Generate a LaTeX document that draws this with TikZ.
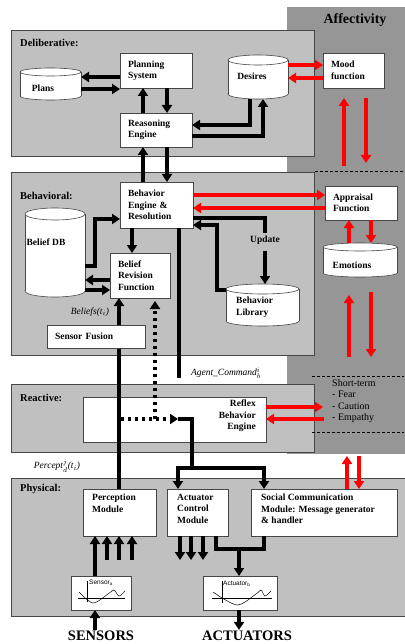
\documentclass[tikz,border=0pt]{standalone}
\usepackage{fontspec}
\setmainfont{Liberation Serif}
\setsansfont{Liberation Sans}
\usetikzlibrary{arrows.meta}
\definecolor{laygray}{RGB}{192,192,192}
\definecolor{affgray}{RGB}{150,150,150}
\definecolor{edgegray}{RGB}{70,70,70}
\tikzset{
  lay/.style={draw=edgegray, line width=0.7pt, fill=laygray},
  laylbl/.style={font=\bfseries\fontsize{10.5}{12}\selectfont, anchor=west, inner sep=0pt},
  box/.style={draw=edgegray, line width=0.6pt, fill=white, inner sep=0pt, outer sep=0pt,
    font=\bfseries\fontsize{9.5}{11.5}\selectfont, align=left},
  boxtxt/.style={font=\bfseries\fontsize{9.5}{11.5}\selectfont, align=left, inner sep=0pt},
  tip/.style={-{Triangle[length=8pt,width=10pt]}},
  blk/.style={line width=3.1pt, tip},
  blkline/.style={line width=3.1pt},
  rd/.style={blk, draw=red},
  dotl/.style={line width=3.1pt, dash pattern=on 3pt off 4pt},
  dsh/.style={line width=0.6pt, dash pattern=on 3pt off 2pt},
  lbl/.style={font=\itshape\fontsize{9.5}{11}\selectfont, inner sep=0pt},
  graph/.style={line width=0.5pt},
}
% box: name x1 y1 x2 y2 text
\newcommand\mybox[6]{%
  \node[box, minimum width={(#4-#2)*1pt}, minimum height={(#5-#3)*1pt},
    text width={(#4-#2-16)*1pt}] (#1) at ({(#2+#4)/2},{(#3+#5)/2}) {#6};}
% empty box: name x1 y1 x2 y2
\newcommand\myebox[5]{%
  \node[box, minimum width={(#4-#2)*1pt}, minimum height={(#5-#3)*1pt}] (#1) at ({(#2+#4)/2},{(#3+#5)/2}) {};}
% cylinder: name x1 y1 x2 y2 ry
\newcommand\mycyl[6]{%
  \pgfmathsetmacro\cylrx{(#4-#2)/2}%
  \pgfmathsetmacro\cylcx{(#4+#2)/2}%
  \draw[line width=0.6pt, draw=edgegray, fill=white] (\cylcx,#5-#6) ellipse[x radius=\cylrx, y radius=#6];
  \fill[white] (#2,#3+#6) rectangle (#4,#5-#6);
  \draw[line width=0.6pt, draw=edgegray] (#2,#3+#6) -- (#2,#5-#6) (#4,#3+#6) -- (#4,#5-#6);
  \draw[line width=0.6pt, draw=edgegray, fill=white] (\cylcx,#3+#6) ellipse[x radius=\cylrx, y radius=#6];
  \node[inner sep=0pt, outer sep=0pt, minimum width={(#4-#2)*1pt}, minimum height={(#5-#3)*1pt}] (#1) at ({(#2+#4)/2},{(#3+#5)/2}) {};}
\begin{document}
\begin{tikzpicture}[x=1pt,y=-1pt]
\useasboundingbox (0,0) rectangle (404,644);
\fill[white] (0,0) rectangle (404,644);
% affectivity column
\fill[affgray] (287,7) rectangle (405,454);
\node[font=\bfseries\fontsize{14}{16}\selectfont] (afft) at (355,20) {Affectivity};
% layers
\draw[lay] (11,30) rectangle (314,156);
\draw[lay] (11,172) rectangle (314,355);
\draw[lay] (11,384) rectangle (314,452);
\draw[lay] (11,478) rectangle (408,616);
\node[laylbl] (ldel) at (20,43) {Deliberative:};
\node[laylbl] (lbeh) at (20,196) {Behavioral:};
\node[laylbl] (lrea) at (20,398) {Reactive:};
\node[laylbl] (lphy) at (20,489) {Physical:};

% dashed separators in affectivity
\coordinate (d1a) at (315,171); \coordinate (d1b) at (404,171);
\coordinate (d2a) at (312,376); \coordinate (d2b) at (404,376);
\coordinate (d3a) at (312,432); \coordinate (d3b) at (404,432);
\draw[dsh] (d1a) -- (d1b);
\draw[dsh] (d2a) -- (d2b);
\draw[dsh] (d3a) -- (d3b);

% ---------- deliberative ----------
\mycyl{plans}{20}{68}{81}{100}{4}
\node[boxtxt] (plantxt) at (43,88) {Plans};
\mycyl{des}{228}{55}{288}{99}{5}
\node[boxtxt] (destxt) at (252,76) {Desires};
\mybox{plan}{120}{53}{192}{88}{Planning\\System}
\mybox{mood}{323}{53}{384}{88}{Mood\\function}
\mybox{reas}{120}{113}{192}{147}{Reasoning\\Engine}

\draw[blk] (plan.west |- 0,77) -- (plans.east |- 0,77);
\draw[blk] (plans.east |- 0,89) -- (plan.west |- 0,89);
\draw[blk] (reas.north -| 143,0) -- (plan.south -| 143,0);
\draw[blk] (plan.south -| 167,0) -- (reas.north -| 167,0);
\draw[blk] (des.south -| 250,0) |- (reas.east |- 0,125);
\draw[blk] (reas.east |- 0,136) -| (des.south -| 263,0);
\draw[rd] (des.east |- 0,65) -- (mood.west |- 0,65);
\draw[rd] (mood.west |- 0,78) -- (des.east |- 0,78);
\coordinate (m1) at (344,166); \coordinate (m2) at (344,98);
\coordinate (m3) at (366,98); \coordinate (m4) at (366,163);
\draw[rd] (m1) -- (m2);
\draw[rd] (m3) -- (m4);

% ---------- behavioral ----------
\mybox{beh}{120}{182}{193}{228}{Behavior\\Engine \&\\Resolution}
\mybox{brf}{110}{253}{170}{298}{Belief\\Revision\\Function}
\mybox{appr}{325}{186}{397}{220}{Appraisal\\Function}
\mycyl{bdb}{25}{208}{85}{297}{6}
\node[boxtxt] (bdbtxt) at (46,242) {Belief DB};
\mycyl{lib}{226}{284}{299}{326}{5}
\node[boxtxt, anchor=north west] (libtxt) at (236,297) {Behavior\\Library};
\mycyl{emo}{323}{243}{397}{277}{4}
\node[boxtxt] (emotxt) at (352,265) {Emotions};
\node[boxtxt, inner sep=2pt] (upd) at (265,240) {Update};

\draw[blk] (reas.south -| 167,0) -- (beh.north -| 167,0);
\draw[blk] (beh.north -| 143,0) -- (reas.south -| 143,0);
\draw[rd] (beh.east |- 0,195) -- (appr.west |- 0,195);
\draw[rd] (appr.west |- 0,208) -- (beh.east |- 0,208);
\draw[blk] (bdb.east |- 0,266) -| (95,219) -- (beh.west |- 0,219);
\draw[blk] (beh.south -| 132,0) -- (brf.north -| 132,0);
\draw[blk] (brf.west |- 0,280) -- (bdb.east |- 0,280);
\draw[blk] (bdb.east |- 0,290) -- (brf.west |- 0,290);
\draw[blkline] (beh.east |- 0,218) -| (upd.north);
\draw[blk, shorten <=4pt] (upd.south) -- (upd.south |- lib.north);
\draw[blk] (lib.west |- 0,290) -| (217,225) -- (beh.east |- 0,225);
\draw[rd] (emo.north -| 349,0) -- (appr.south -| 349,0);
\draw[rd] (appr.south -| 371,0) -- (emo.north -| 371,0);
\coordinate (e1) at (349,357); \coordinate (e2) at (349,295);
\coordinate (e3) at (371,292); \coordinate (e4) at (371,357);
\draw[rd] (e1) -- (e2);
\draw[rd] (e3) -- (e4);
\coordinate (agentend) at (179,378);
\draw[blkline] (beh.south -| 179,0) -- (agentend);
\node[lbl] (agentlbl) at (226,373) {Agent\_Command$_b^i$};
\node[lbl] (beliefslbl) at (90,312) {Beliefs(t$_i$)};

% ---------- reactive ----------
\myebox{refl}{83}{397}{266}{442}
\node[boxtxt, align=right, anchor=north east] (refltxt) at (256,400) {Reflex\\Behavior\\Engine};
\coordinate (r1) at (323,407); \coordinate (r2) at (324,419);
\draw[rd] (refl.east |- 0,407) -- (r1);
\draw[rd] (r2) -- (refl.east |- 0,419);
\node[font=\fontsize{10}{11.5}\selectfont, align=left, anchor=north west, inner sep=0pt] (stxt) at (332,379) {Short-term\\- Fear\\- Caution\\- Empathy};
\node[lbl] (perclbl) at (57,466) {Percept$_d^j$(t$_i$)};

% ---------- physical ----------
\myebox{perc}{83}{489}{156}{536}
\node[boxtxt, anchor=north west] (perctxt) at (92,494) {Perception\\Module};
\myebox{act}{167}{489}{228}{536}
\node[boxtxt, anchor=north west] (acttxt) at (177,494) {Actuator\\Control\\Module};
\myebox{soc}{251}{489}{397}{536}
\node[boxtxt, anchor=north west] (soctxt) at (261,494) {Social Communication\\Module: Message generator\\\& handler};
\myebox{sens}{71}{576}{131}{610}
\myebox{actb}{203}{576}{277}{610}
\node[font=\sffamily\fontsize{6.5}{7}\selectfont, anchor=west, inner sep=0pt] (senstxt) at (89,583) {Sensor\textsubscript{a}};
\node[font=\sffamily\fontsize{6.5}{7}\selectfont, anchor=west, inner sep=0pt] (actbtxt) at (223,584) {Actuator\textsubscript{b}};
\draw[graph] (87,581) -- (87,602) (78,598) -- (125,598);
\draw[graph] plot[smooth] coordinates {(79,592) (93,603) (108,594) (114,590) (119,596) (125,591)};
\draw[graph] (222,581) -- (222,603) (212,598) -- (272,598);
\draw[graph] plot[smooth] coordinates {(213,592) (237,605) (256,594) (261,590) (265,596) (271,591)};
\node[font=\bfseries\fontsize{14.5}{16}\selectfont, inner sep=1pt] (sentxt) at (101,636) {SENSORS};
\node[font=\bfseries\fontsize{14.5}{16}\selectfont, inner sep=1pt] (acttxt2) at (247,636) {ACTUATORS};

% percept line (under sensor fusion box)
\draw[blk] (perc.north -| 119,0) -- (brf.south -| 119,0);
% dotted paths
\coordinate (dt) at (178,419);
\coordinate (dstart) at (121,419);
\coordinate (dv) at (155,419);
\draw[dotl, tip] (dstart) -- (dt);
\draw[dotl, tip, shorten >=3pt] (dv) -- (brf.south -| dv);
% reflex to actuators
\coordinate (jn) at (192,468);
\draw[blkline] (dt) -| (jn);
\draw[blk] (jn) -| (act.north -| 178,0);
\draw[blk] (jn) -| (soc.north -| 264,0);
% sensor fusion box on top
\node[box, minimum width=98pt, minimum height=23pt, text width=82pt] (sf) at (96,336.5) {Sensor Fusion};

% perception inputs
\draw[blk] (sens.north -| 95,0) -- (perc.south -| 95,0);
\coordinate (p2) at (107,560); \coordinate (p3) at (119,560); \coordinate (p4) at (132,560);
\draw[blk] (p2) -- (perc.south -| p2);
\draw[blk] (p3) -- (perc.south -| p3);
\draw[blk] (p4) -- (perc.south -| p4);
% actuator outputs
\coordinate (a1) at (180,560); \coordinate (a2) at (191,560); \coordinate (a3) at (203,560);
\draw[blk] (act.south -| a1) -- (a1);
\draw[blk] (act.south -| a2) -- (a2);
\draw[blk] (act.south -| a3) -- (a3);
\coordinate (tj) at (239,549);
\draw[blkline] (act.south -| 216,0) |- (tj) -| (soc.south -| 264,0);
\draw[blk] (tj) -- (actb.north -| tj);
% external
\draw[blk] (sentxt.north -| 95,0) -- (sens.south -| 95,0);
\draw[blk] (actb.south -| 239,0) -- (acttxt2.north -| 239,0);
% affectivity to social
\coordinate (s1) at (347,456); \coordinate (s2) at (359,456);
\draw[rd] (soc.north -| s1) -- (s1);
\draw[rd] (s2) -- (soc.north -| s2);
\end{tikzpicture}
\end{document}
